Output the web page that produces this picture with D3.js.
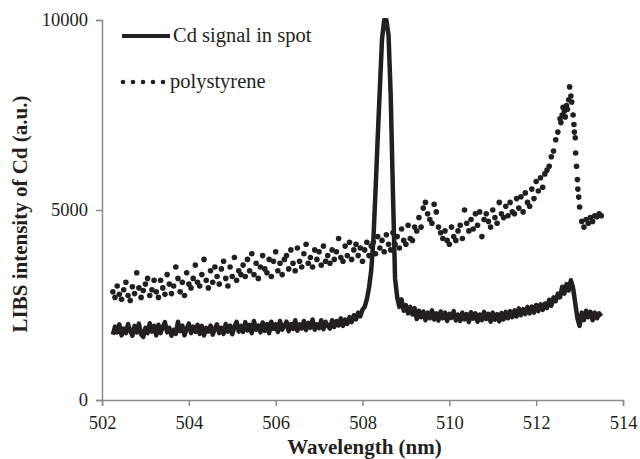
<!DOCTYPE html>
<html lang="en">
<head>
<meta charset="UTF-8">
<title>LIBS intensity of Cd</title>
<script src="https://d3js.org/d3.v7.min.js"></script>
<style>
  body { margin: 0; background: #fff; }
  svg { display: block; }
  .axis path, .axis line { stroke: #8c8c8c; stroke-width: 1.5; }
  .axis text { font-family: "Liberation Serif", "Times New Roman", serif; font-size: 18.5px; fill: #231f20; }
  .title { font-family: "Liberation Serif", "Times New Roman", serif; font-size: 21px; font-weight: bold; fill: #231f20; }
  .leg { font-family: "Liberation Serif", "Times New Roman", serif; font-size: 20.5px; fill: #231f20; }
</style>
</head>
<body>
<svg width="640" height="459"></svg>
<script>
// wavelength grid (nm), shared by both spectra
const wavelength = [
  502.25,502.3,502.35,502.4,502.45,502.5,502.55,502.6,502.65,502.7,502.75,502.8,502.85,502.9,502.95,503,503.05,503.1,503.15,503.2,
  503.25,503.3,503.35,503.4,503.45,503.5,503.55,503.6,503.65,503.7,503.75,503.8,503.85,503.9,503.95,504,504.05,504.1,504.15,504.2,
  504.25,504.3,504.35,504.4,504.45,504.5,504.55,504.6,504.65,504.7,504.75,504.8,504.85,504.9,504.95,505,505.05,505.1,505.15,505.2,
  505.25,505.3,505.35,505.4,505.45,505.5,505.55,505.6,505.65,505.7,505.75,505.8,505.85,505.9,505.95,506,506.05,506.1,506.15,506.2,
  506.25,506.3,506.35,506.4,506.45,506.5,506.55,506.6,506.65,506.7,506.75,506.8,506.85,506.9,506.95,507,507.05,507.1,507.15,507.2,
  507.25,507.3,507.35,507.4,507.45,507.5,507.55,507.6,507.65,507.7,507.75,507.8,507.85,507.9,507.95,508,508.05,508.1,508.15,508.2,
  508.25,508.3,508.35,508.4,508.45,508.5,508.55,508.6,508.65,508.7,508.75,508.8,508.85,508.9,508.95,509,509.05,509.1,509.15,509.2,
  509.25,509.3,509.35,509.4,509.45,509.5,509.55,509.6,509.65,509.7,509.75,509.8,509.85,509.9,509.95,510,510.05,510.1,510.15,510.2,
  510.25,510.3,510.35,510.4,510.45,510.5,510.55,510.6,510.65,510.7,510.75,510.8,510.85,510.9,510.95,511,511.05,511.1,511.15,511.2,
  511.25,511.3,511.35,511.4,511.45,511.5,511.55,511.6,511.65,511.7,511.75,511.8,511.85,511.9,511.95,512,512.05,512.1,512.15,512.2,
  512.25,512.3,512.35,512.4,512.45,512.5,512.55,512.6,512.65,512.7,512.75,512.8,512.85,512.9,512.95,513,513.05,513.1,513.15,513.2,
  513.25,513.3,513.35,513.4,513.45,513.5
]

const cdSignal = [
  1720,1930,1780,1990,1700,1880,1760,2000,1820,1690,1950,1780,2010,1730,1660,1900,1760,2020,1800,1950,
  1700,1980,1760,1930,2050,1780,1900,1690,1850,1740,2060,1810,1960,1700,1880,2010,1760,1930,1790,1980,
  1740,1950,1700,1900,1800,1960,1720,1880,1990,1760,1900,1740,2000,1800,1960,1730,1930,2060,1800,1950,
  1790,2050,1830,1980,1760,2080,1850,1960,1780,2040,1820,2000,1760,2060,1870,1990,1790,2080,1850,1950,
  2060,1810,2000,1870,2100,1820,1990,1880,2080,1840,2030,1900,2120,1850,1990,1890,2100,1860,2060,1950,
  1880,2100,1920,2080,1960,2150,1950,2120,2000,2180,2050,2230,2120,2300,2200,2380,2450,2650,2950,3400,
  4200,5500,6900,8200,9500,10000,10000,9600,8000,5500,3200,2700,2450,2650,2350,2500,2280,2450,2250,2420,
  2130,2350,2180,2330,2100,2300,2150,2360,2120,2280,2090,2330,2150,2300,2080,2270,2160,2340,2090,2250,
  2080,2300,2120,2260,2050,2310,2140,2280,2060,2250,2100,2320,2130,2270,2060,2300,2110,2260,2070,2290,
  2120,2320,2150,2340,2180,2360,2200,2410,2230,2390,2260,2450,2280,2460,2300,2500,2340,2520,2370,2540,
  2420,2640,2480,2700,2600,2800,2700,2980,2800,3050,2880,3150,2950,2550,2150,1950,2300,2100,2350,2180,
  2320,2100,2300,2150,2280,2200
]

const polystyrene = [
  2850,2700,3000,2780,2650,2900,3100,2750,2620,2980,2800,3350,2950,2700,2880,3050,3200,2750,2900,3150,
  2850,2700,3150,2950,2780,3300,3050,2800,3000,3500,3200,2850,3100,2750,3350,3050,2950,3200,3550,3100,
  3000,3300,3700,3150,2950,3400,3100,3500,3250,3050,3450,3650,3200,3000,3500,3250,3750,3150,3400,3300,
  3550,3250,3700,3400,3850,3300,3600,3200,3500,3800,3450,3350,3700,3250,3650,3900,3400,3600,3300,3700,
  3800,3450,3950,3600,3400,4000,3650,3500,3850,4100,3600,3750,3500,3950,3700,3900,3550,4050,3650,3800,
  3600,3950,3700,3900,4250,3750,3650,4050,3800,4150,3700,3950,4100,3800,4000,3650,3950,4150,3800,4050,
  4150,3850,4300,4000,4200,3900,4350,4100,3950,4400,4100,4300,4000,4500,4200,4100,4600,4250,4200,4550,
  4450,4800,4550,5050,5200,4900,4750,4650,5150,4950,4550,4400,4250,4450,4200,4100,4550,4300,4200,4450,
  4600,4250,5000,4650,4450,4750,4500,4900,4600,4950,4300,4750,4900,4700,4550,5000,4800,4650,5200,4900,
  4800,5100,4850,5200,4950,4900,5300,5050,5350,4950,5450,5200,5100,5550,5300,5750,5500,5850,5600,5950,
  6050,6150,6400,6550,6850,7050,7400,7500,7600,7750,7900,8000,7500,6900,5800,5080,4700,4550,4750,4650,
  4800,4700,4850,4820,4900,4850
]

// extra polystyrene readings between grid points around the 512.8 nm band
const psExtraWl = [512.57,512.62,512.67,512.72,512.77,512.82,512.87,512.88,512.91,512.93,512.96,512.98]
const psExtraI  = [7300,7700,7450,7650,8240,7840,7250,7050,6500,6150,5550,5340]

const xTicks = [502,504,506,508,510,512,514]
const yTicks = [0,5000,10000]
const seriesNames = ["Cd signal in spot","polystyrene"]

const W = 640, H = 459
const margin = {top: 20, right: 17, bottom: 59, left: 102}
const ink = "#231f20"
const serif = '"Liberation Serif", "Times New Roman", serif'

const svg = d3.select("svg")

const x = d3.scaleLinear().domain([502,514]).range([margin.left, W - margin.right])
const y = d3.scaleLinear().domain([0,10000]).range([H - margin.bottom, margin.top])

svg.append("clipPath").attr("id","plot")
  .append("rect")
  .attr("x", margin.left).attr("y", margin.top - 2)
  .attr("width", W - margin.left - margin.right).attr("height", H - margin.top - margin.bottom + 2)

// axes
const gx = svg.append("g").attr("class","axis")
  .attr("transform", `translate(0,${H - margin.bottom})`)
  .call(d3.axisBottom(x).tickValues(xTicks).tickFormat(d3.format("d")).tickSizeOuter(0).tickSize(6).tickPadding(10))
gx.selectAll("text").attr("font-family", serif).attr("font-size", 18.5)

const gy = svg.append("g").attr("class","axis")
  .attr("transform", `translate(${margin.left},0)`)
  .call(d3.axisLeft(y).tickValues(yTicks).tickFormat(d3.format("d")).tickSizeOuter(0).tickSize(6).tickPadding(8))
gy.selectAll("text").attr("font-family", serif).attr("font-size", 18.5)

// polystyrene dots
const psPoints = wavelength.map((w,i) => ({w: w, v: polystyrene[i]}))
  .concat(psExtraWl.map((w,i) => ({w: w, v: psExtraI[i]})))

svg.append("g").attr("clip-path","url(#plot)")
  .selectAll("circle").data(psPoints).enter()
  .append("circle")
  .attr("cx", d => x(d.w))
  .attr("cy", d => y(d.v))
  .attr("r", 2.8)
  .attr("fill", ink)

// Cd line
const line = d3.line().x((d,i) => x(wavelength[i])).y(d => y(d))

svg.append("path")
  .attr("clip-path","url(#plot)")
  .datum(cdSignal)
  .attr("d", line)
  .attr("fill","none")
  .attr("stroke", ink)
  .attr("stroke-width", 4.5)
  .attr("stroke-linejoin","round")

// legend
svg.append("line")
  .attr("x1",122).attr("x2",170).attr("y1",36).attr("y2",36)
  .attr("stroke",ink).attr("stroke-width",4)
svg.append("text").attr("class","leg").attr("x",173).attr("y",42).text(seriesNames[0])

svg.append("g").selectAll("circle").data([0,1,2,3,4]).enter()
  .append("circle")
  .attr("cx", d => 123 + d*10).attr("cy", 82).attr("r", 2.3).attr("fill", ink)
svg.append("text").attr("class","leg").attr("x",170).attr("y",88).text(seriesNames[1])

// axis titles
svg.append("text").attr("class","title")
  .attr("x", (margin.left + W - margin.right)/2 + 2).attr("y", 454)
  .attr("text-anchor","middle")
  .text("Wavelength (nm)")

svg.append("text").attr("class","title")
  .attr("transform", "translate(27,214) rotate(-90)")
  .attr("text-anchor","middle")
  .text("LIBS intensity of Cd (a.u.)")
</script>
</body>
</html>
